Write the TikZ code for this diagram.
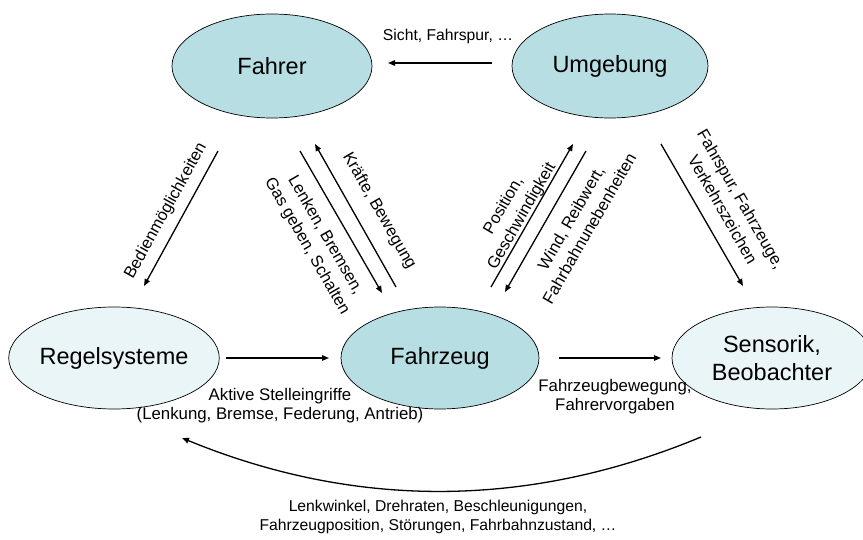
\documentclass[tikz,border=0pt]{standalone}
\usepackage{fontspec}
\setmainfont{Liberation Sans}
\usetikzlibrary{shapes.geometric,arrows.meta}
\definecolor{dark}{RGB}{183,222,226}
\definecolor{light}{RGB}{234,245,247}
\tikzset{
  ell/.style={ellipse, draw=black, line width=0.7pt, inner sep=0pt, align=center,
    font=\fontsize{23.5}{28}\selectfont},
  bigell/.style={ell, fill=dark},
  smallell/.style={ell, fill=light},
  lbl/.style={font=\fontsize{15.7}{19}\selectfont, align=center, inner sep=0pt},
  rlbl/.style={font=\fontsize{16.5}{21}\selectfont, align=center, inner sep=0pt},
  mlbl/.style={font=\fontsize{16.8}{19}\selectfont, align=center, inner sep=0pt},
  conn/.style={line width=1.3pt, -{Triangle[length=7pt,width=5.5pt]}}
}
\begin{document}
\begin{tikzpicture}[x=1pt,y=-1pt]
\useasboundingbox (0,0) rectangle (863,540);
\begin{scope}
\clip (0,0) rectangle (863,540);
\node[bigell, minimum width=200pt, minimum height=104pt] (fahrer) at (272,66) {\raisebox{-3pt}{Fahrer}};
\node[bigell, minimum width=196pt, minimum height=104pt] (umg) at (610,66) {\raisebox{-3pt}{Umgebung}};
\node[smallell, minimum width=204pt, minimum height=102pt] (regel) at (114,358) {Regelsysteme};
\node[bigell, minimum width=198pt, minimum height=102pt] (fzg) at (440,358) {Fahrzeug};
\node[smallell, minimum width=200pt, minimum height=102pt] (sens) at (772,358) {Sensorik,\\Beobachter};
\end{scope}

% endpoints
\coordinate (u1) at (492,63);  \coordinate (f1) at (388,63);
\coordinate (b1) at (218,151); \coordinate (b2) at (144,286);
\coordinate (l1) at (300,151); \coordinate (l2) at (382,293);
\coordinate (k1) at (396,287); \coordinate (k2) at (315,144);
\coordinate (p1) at (491,287); \coordinate (p2) at (573,144);
\coordinate (w1) at (586,151); \coordinate (w2) at (505,292);
\coordinate (s1) at (661,144); \coordinate (s2) at (743,286);
\coordinate (r1) at (226,358); \coordinate (r2) at (329,358);
\coordinate (z1) at (559,358); \coordinate (z2) at (661,358);
\coordinate (c1) at (701,437); \coordinate (c2) at (182,438);

\draw[conn] (u1) -- (f1);
\draw[conn] (b1) -- (b2);
\draw[conn] (l1) -- (l2);
\draw[conn] (k1) -- (k2);
\draw[conn] (p1) -- (p2);
\draw[conn] (w1) -- (w2);
\draw[conn] (s1) -- (s2);
\draw[conn] (r1) -- (r2);
\draw[conn] (z1) -- (z2);
\draw[conn] (c1) .. controls (528,509) and (355,509) .. (c2);

\node[lbl] (tsicht) at (448,36) {Sicht, Fahrspur, …};
\node[rlbl, rotate=61] (tbed) at (166,211) {Bedienmöglichkeiten};
\node[rlbl, rotate=-60] (tlenk) at (316,241) {Lenken, Bremsen,\\Gas geben, Schalten};
\node[rlbl, rotate=-60] (tkr) at (379,211) {Kräfte, Bewegung};
\node[rlbl, rotate=60] (tpos) at (513,211) {Position,\\Geschwindigkeit};
\node[rlbl, rotate=60] (twind) at (580,223) {Wind, Reibwert,\\Fahrbahnunebenheiten};
\node[rlbl, rotate=-60] (tfs) at (732,204) {Fahrspur, Fahrzeuge,\\Verkehrszeichen};
\node[mlbl] (takt) at (280,406) {Aktive Stelleingriffe\\(Lenkung, Bremse, Federung, Antrieb)};
\node[mlbl] (tfb) at (615,397) {Fahrzeugbewegung,\\Fahrervorgaben};
\node[lbl] (tbot) at (438,517) {Lenkwinkel, Drehraten, Beschleunigungen,\\Fahrzeugposition, Störungen, Fahrbahnzustand, …};
\end{tikzpicture}
\end{document}
